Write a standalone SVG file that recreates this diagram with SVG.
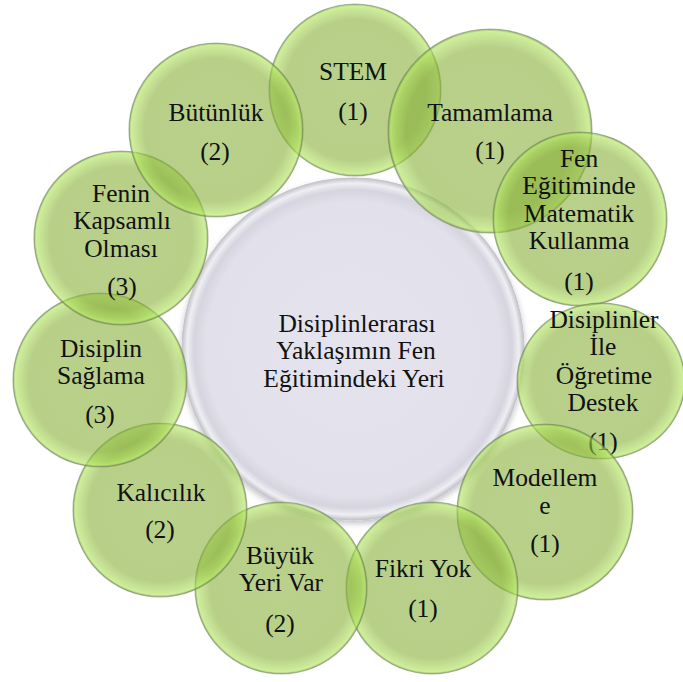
<svg xmlns="http://www.w3.org/2000/svg" width="683" height="682" viewBox="0 0 683 682">
<defs>
<radialGradient id="gGreen" cx="0.5" cy="0.5" r="0.5">
<stop offset="0" stop-color="rgb(135,175,55)" stop-opacity="0.58"/>
<stop offset="0.82" stop-color="rgb(135,175,55)" stop-opacity="0.6"/>
<stop offset="0.93" stop-color="rgb(160,210,75)" stop-opacity="0.58"/>
<stop offset="0.975" stop-color="rgb(180,232,95)" stop-opacity="0.65"/>
<stop offset="1" stop-color="rgb(115,140,75)" stop-opacity="0.72"/>
</radialGradient>
<radialGradient id="gCenter" cx="0.5" cy="0.5" r="0.5">
<stop offset="0" stop-color="#e5e4ee"/>
<stop offset="0.86" stop-color="#e2e1eb"/>
<stop offset="0.93" stop-color="#d6d5df"/>
<stop offset="0.97" stop-color="#eeeef3"/>
<stop offset="1" stop-color="#c2c2ca"/>
</radialGradient>
<filter id="sh" x="-10%" y="-10%" width="120%" height="125%">
<feGaussianBlur in="SourceAlpha" stdDeviation="3"/>
<feOffset dy="3" result="b"/>
<feComponentTransfer><feFuncA type="linear" slope="0.25"/></feComponentTransfer>
<feMerge><feMergeNode/><feMergeNode in="SourceGraphic"/></feMerge>
</filter>
</defs>
<style>
.bub{fill:url(#gGreen);stroke:rgba(110,130,90,0.5);stroke-width:1.2}
.t{font-family:'Liberation Serif','Times New Roman',serif;font-size:25.5px;fill:#111;text-anchor:middle}
</style>
<rect width="683" height="682" fill="#ffffff"/>
<g id="center">
<circle cx="353" cy="349" r="171" fill="url(#gCenter)" stroke="#c4c4cc" stroke-width="1" filter="url(#sh)"/>
<g class="t">
<text x="357" y="332">Disiplinlerarası</text>
<text x="356" y="359">Yaklaşımın Fen</text>
<text x="354" y="387">Eğitimindeki Yeri</text>
</g>
</g>
<g id="connectors"></g>
<g id="stem">
<circle class="bub" cx="355" cy="90" r="86"/>
<g class="t">
<text x="353" y="80">STEM</text>
<text x="353" y="120">(1)</text>
</g>
</g>
<g id="tamamlama">
<circle class="bub" cx="490" cy="131" r="102"/>
<g class="t">
<text x="490" y="121">Tamamlama</text>
<text x="490" y="159">(1)</text>
</g>
</g>
<g id="fen-matematik">
<circle class="bub" cx="580" cy="219" r="87"/>
<g class="t">
<text x="579" y="167">Fen</text>
<text x="579" y="194">Eğitiminde</text>
<text x="579" y="222">Matematik</text>
<text x="579" y="249">Kullanma</text>
<text x="579" y="290">(1)</text>
</g>
</g>
<g id="disiplinler-ile">
<ellipse class="bub" cx="601" cy="381" rx="84" ry="78"/>
<g class="t">
<text x="604" y="328">Disiplinler</text>
<text x="603" y="355">İle</text>
<text x="604" y="384">Öğretime</text>
<text x="603" y="411">Destek</text>
<text x="603" y="450">(1)</text>
</g>
</g>
<g id="modelleme">
<circle class="bub" cx="545" cy="512" r="88"/>
<g class="t">
<text x="545" y="486">Modellem</text>
<text x="545" y="514">e</text>
<text x="545" y="552">(1)</text>
</g>
</g>
<g id="fikri-yok">
<circle class="bub" cx="432" cy="588" r="86"/>
<g class="t">
<text x="423" y="577">Fikri Yok</text>
<text x="423" y="617">(1)</text>
</g>
</g>
<g id="buyuk-yeri-var">
<circle class="bub" cx="281" cy="588" r="86"/>
<g class="t">
<text x="280" y="564">Büyük</text>
<text x="281" y="591">Yeri Var</text>
<text x="280" y="632">(2)</text>
</g>
</g>
<g id="kalicilik">
<circle class="bub" cx="160" cy="510" r="87"/>
<g class="t">
<text x="161" y="501">Kalıcılık</text>
<text x="160" y="538">(2)</text>
</g>
</g>
<g id="disiplin-saglama">
<circle class="bub" cx="100" cy="380" r="87"/>
<g class="t">
<text x="101" y="357">Disiplin</text>
<text x="101" y="384">Sağlama</text>
<text x="100" y="423">(3)</text>
</g>
</g>
<g id="fenin-kapsamli">
<circle class="bub" cx="121" cy="238" r="87"/>
<g class="t">
<text x="121" y="202">Fenin</text>
<text x="122" y="229">Kapsamlı</text>
<text x="121" y="257">Olması</text>
<text x="122" y="295">(3)</text>
</g>
</g>
<g id="butunluk">
<circle class="bub" cx="216" cy="130" r="87"/>
<g class="t">
<text x="216" y="121">Bütünlük</text>
<text x="215" y="160">(2)</text>
</g>
</g>
</svg>
